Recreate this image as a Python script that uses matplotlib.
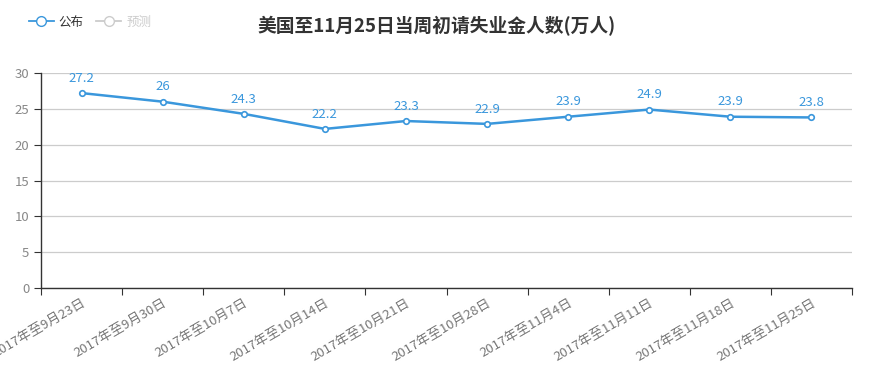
import numpy as np
import matplotlib.pyplot as plt
from matplotlib.lines import Line2D

plt.rcParams['font.family'] = ['Noto Sans CJK SC', 'DejaVu Sans']

# data
weeks = ['2017年至9月23日', '2017年至9月30日', '2017年至10月7日', '2017年至10月14日',
         '2017年至10月21日', '2017年至10月28日', '2017年至11月4日', '2017年至11月11日',
         '2017年至11月18日', '2017年至11月25日']
published = [27.2, 26, 24.3, 22.2, 23.3, 22.9, 23.9, 24.9, 23.9, 23.8]
y_ticks = [0, 5, 10, 15, 20, 25, 30]

blue = '#3a97dc'

fig = plt.figure(figsize=(8.73, 3.68), dpi=100)
ax = fig.add_axes([0.047, 0.2174, 0.929, 0.5842])

x = np.arange(len(weeks))
ax.plot(x, published, color=blue, lw=1.8, marker='o', ms=4,
        markerfacecolor='white', markeredgecolor=blue, markeredgewidth=1.2, zorder=3)
for xi, v in zip(x, published):
    ax.annotate(f'{v:g}', (xi, v), xytext=(0, 6), textcoords='offset points',
                ha='center', va='bottom', color=blue, fontsize=9.5)

ax.set_xlim(-0.5, len(weeks) - 0.5)
ax.set_ylim(0, 30)
ax.set_yticks(y_ticks)
ax.yaxis.grid(True, color='#cccccc', lw=0.9)
ax.set_axisbelow(True)

# category boundaries as ticks, labels at centres
ax.set_xticks(np.arange(len(weeks) + 1) - 0.5)
ax.set_xticklabels([])
ax.set_xticks(x, minor=True)
ax.set_xticklabels(weeks, minor=True, rotation=30, ha='right',
                   rotation_mode='anchor', color='#777777', fontsize=9.5)
ax.tick_params(axis='x', which='minor', length=0, pad=6)
ax.tick_params(axis='x', which='major', length=5, color='#333333')
ax.tick_params(axis='y', length=5, color='#333333', labelcolor='#888888', labelsize=9.5)

for s in ['top', 'right']:
    ax.spines[s].set_visible(False)
for s in ['left', 'bottom']:
    ax.spines[s].set_color('#333333')
    ax.spines[s].set_linewidth(1.0)

fig.text(0.5, 0.93, '美国至11月25日当周初请失业金人数(万人)', ha='center', va='center',
         fontsize=13.5, fontweight='bold', color='#333333')

handles = [Line2D([], [], color=blue, lw=1.3, marker='o', ms=7,
                  markerfacecolor='white', markeredgecolor=blue),
           Line2D([], [], color='#cccccc', lw=1.3, marker='o', ms=7,
                  markerfacecolor='white', markeredgecolor='#cccccc')]
leg = fig.legend(handles, ['公布', '预测'], loc='center left', bbox_to_anchor=(0.02, 0.94),
                 frameon=False, ncol=2, fontsize=9, handlelength=2.0,
                 handletextpad=0.4, columnspacing=1.0)
leg.get_texts()[0].set_color('#333333')
leg.get_texts()[1].set_color('#cccccc')

fig.savefig('out.png', dpi=100)
